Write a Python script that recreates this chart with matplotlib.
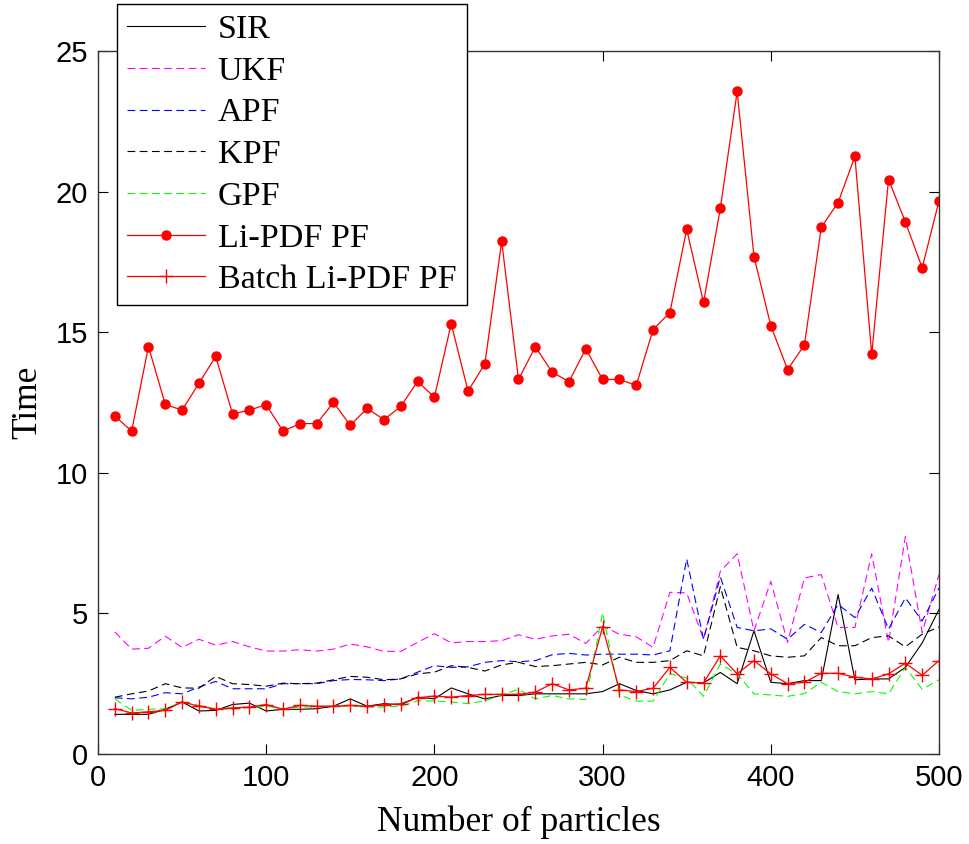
import numpy as np
import matplotlib
matplotlib.use("Agg")
import matplotlib.pyplot as plt

particles = np.arange(10, 501, 10)

sir = [1.41, 1.41, 1.41, 1.59, 1.85, 1.53, 1.55, 1.76, 1.81, 1.53,
       1.59, 1.59, 1.61, 1.70, 1.96, 1.70, 1.79, 1.75, 2.02, 1.96,
       2.35, 2.14, 1.96, 2.08, 2.08, 2.14, 2.14, 2.14, 2.14, 2.22,
       2.50, 2.26, 2.14, 2.28, 2.55, 2.53, 2.90, 2.50, 4.38, 2.55,
       2.50, 2.61, 2.61, 5.67, 2.64, 2.67, 2.67, 3.08, 3.95, 5.14]
ukf = [4.34, 3.73, 3.76, 4.19, 3.79, 4.08, 3.87, 4.00, 3.81, 3.66,
       3.66, 3.71, 3.66, 3.73, 3.91, 3.81, 3.65, 3.65, 3.97, 4.28,
       3.95, 4.00, 4.00, 4.03, 4.24, 4.08, 4.20, 4.26, 3.93, 4.55,
       4.26, 4.17, 3.79, 5.75, 5.73, 4.08, 6.50, 7.12, 4.38, 6.14,
       3.97, 6.26, 6.38, 4.50, 4.50, 7.12, 3.97, 7.73, 4.32, 6.38]
apf = [2.00, 1.96, 2.02, 2.18, 2.14, 2.38, 2.58, 2.32, 2.32, 2.32,
       2.50, 2.50, 2.50, 2.61, 2.65, 2.64, 2.61, 2.67, 2.91, 3.14,
       3.08, 3.10, 3.26, 3.32, 3.28, 3.32, 3.53, 3.58, 3.52, 3.55,
       3.55, 3.55, 3.52, 3.67, 6.94, 4.08, 6.30, 4.50, 4.38, 4.45,
       4.08, 4.61, 4.32, 5.32, 4.85, 5.90, 4.44, 5.55, 4.73, 5.90]
kpf = [2.02, 2.14, 2.24, 2.50, 2.35, 2.34, 2.76, 2.50, 2.47, 2.41,
       2.52, 2.50, 2.52, 2.64, 2.76, 2.73, 2.64, 2.67, 2.85, 2.91,
       3.14, 3.08, 2.95, 3.17, 3.26, 3.11, 3.14, 3.20, 3.26, 3.17,
       3.44, 3.26, 3.26, 3.32, 3.67, 3.49, 5.95, 3.79, 3.67, 3.49,
       3.44, 3.49, 4.14, 3.85, 3.85, 4.14, 4.20, 3.81, 4.26, 4.52]
gpf = [1.96, 1.55, 1.59, 1.61, 1.85, 1.73, 1.61, 1.59, 1.65, 1.70,
       1.61, 1.67, 1.67, 1.70, 1.70, 1.67, 1.67, 1.70, 1.89, 1.89,
       1.85, 1.79, 1.89, 2.10, 2.30, 1.96, 2.08, 1.96, 1.94, 5.02,
       2.10, 1.88, 1.88, 2.85, 2.70, 2.05, 3.20, 2.85, 2.14, 2.10,
       2.05, 2.15, 2.55, 2.22, 2.14, 2.22, 2.14, 3.08, 2.30, 2.64]
li_pdf = [12.02, 11.48, 14.49, 12.43, 12.23, 13.18, 14.14, 12.09, 12.23, 12.42,
          11.48, 11.75, 11.75, 12.50, 11.69, 12.29, 11.89, 12.36, 13.25, 12.69,
          15.30, 12.91, 13.87, 18.23, 13.32, 14.48, 13.58, 13.24, 14.41, 13.32,
          13.32, 13.11, 15.09, 15.70, 18.66, 16.06, 19.40, 23.56, 17.69, 15.23,
          13.67, 14.55, 18.73, 19.61, 21.25, 14.21, 20.43, 18.92, 17.29, 19.67]
batch = [1.61, 1.46, 1.50, 1.55, 1.85, 1.70, 1.59, 1.64, 1.67, 1.76,
         1.59, 1.73, 1.70, 1.70, 1.73, 1.70, 1.75, 1.79, 2.00, 2.06,
         2.02, 2.08, 2.12, 2.12, 2.12, 2.20, 2.50, 2.28, 2.34, 4.52,
         2.28, 2.22, 2.34, 3.08, 2.55, 2.53, 3.49, 2.85, 3.32, 2.85,
         2.50, 2.55, 2.87, 2.87, 2.73, 2.67, 2.85, 3.23, 2.80, 3.32]

fig = plt.figure(figsize=(9.7, 8.44), dpi=100)
ax = fig.add_axes([98 / 970, 90 / 844, 841 / 970, 703 / 844])

dash = (0, (7, 4))
ax.plot(particles, sir, color="k", lw=0.8, label="SIR")
ax.plot(particles, ukf, color="#ff00ff", lw=0.8, ls=dash, label="UKF")
ax.plot(particles, apf, color="#0000ff", lw=0.8, ls=dash, label="APF")
ax.plot(particles, kpf, color="k", lw=0.8, ls=dash, label="KPF")
ax.plot(particles, gpf, color="#00ff00", lw=0.8, ls=dash, label="GPF")
ax.plot(particles, li_pdf, color="red", lw=0.9, marker="o", ms=6.5, label="Li-PDF PF")
ax.plot(particles, batch, color="red", lw=0.9, marker="+", ms=10, mew=1.0, label="Batch Li-PDF PF")

ax.set_xlim(0, 500)
ax.set_ylim(0, 25)
ax.set_xticks([0, 100, 200, 300, 400, 500])
ax.set_yticks([0, 5, 10, 15, 20, 25])
ax.tick_params(direction="in", length=7, width=0.8, top=True, right=True,
               labelsize=21, pad=7)
for lbl in ax.get_xticklabels() + ax.get_yticklabels():
    lbl.set_fontfamily("Liberation Sans")
for s in ax.spines.values():
    s.set_linewidth(1.0)
    s.set_color("#333333")

ax.set_xlabel("Number of particles", fontfamily="Liberation Serif", fontsize=25.5, labelpad=10)
ax.set_ylabel("Time", fontfamily="Liberation Serif", fontsize=25.5, labelpad=8)

leg = ax.legend(loc="upper left", bbox_to_anchor=(117 / 970, 1 - 4 / 844),
                bbox_transform=fig.transFigure, borderaxespad=0,
                prop={"family": "Liberation Serif", "size": 24.5},
                fancybox=False, framealpha=1, edgecolor="k",
                handlelength=2.3, labelspacing=0.32, handletextpad=0.36,
                borderpad=0.3)
leg.get_frame().set_linewidth(1.0)

fig.savefig("out.png", dpi=100, facecolor="white")
